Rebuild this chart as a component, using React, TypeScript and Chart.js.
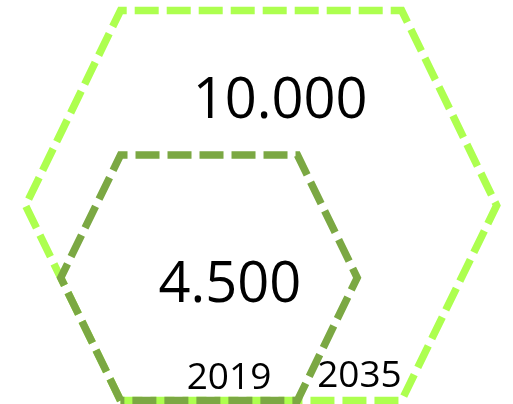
import React, { useEffect, useRef } from "react";
import { Chart, registerables } from "chart.js";

Chart.register(...registerables);

// ---- data ----
const categories = ["2019", "2035"];
const values = [4500, 10000];
const valueLabels = ["4.500", "10.000"];
const colors = ["#7BA843", "#ADFF4F"];

// ---- layout constants (canvas-unit axes) ----
const W = 513;
const Hc = 404;
const anchorX = 120.5; // shared bottom-left vertex
const anchorY = 400.5;
const maxHalfHeight = 195;

function hexGeom(v: number) {
  const maxV = Math.max(...values);
  const k = Math.pow(v / maxV, 0.58);
  const h = maxHalfHeight * k;
  const o = 0.487 * h;
  const l = 1.442 * h;
  return { h, o, l, bx: anchorX, by: anchorY };
}

function hexPoints(v: number) {
  const { h, o, l, bx, by } = hexGeom(v);
  return [
    { x: bx, y: by },
    { x: bx - o, y: by - h },
    { x: bx, y: by - 2 * h },
    { x: bx + l, y: by - 2 * h },
    { x: bx + l + o, y: by - h },
    { x: bx + l, y: by },
    { x: bx, y: by },
  ];
}

const labelPlugin = {
  id: "hexLabels",
  afterDatasetsDraw(chart: any) {
    const { ctx, scales } = chart;
    const xs = scales.x;
    const ys = scales.y;
    const small = hexGeom(values[0]);
    const big = hexGeom(values[1]);
    ctx.save();
    ctx.fillStyle = "#000000";
    ctx.textAlign = "center";
    ctx.textBaseline = "alphabetic";
    // value labels
    ctx.font = "56px 'Open Sans'";
    ctx.fillText(
      valueLabels[1],
      xs.getPixelForValue(big.bx + big.l / 2 + 19),
      ys.getPixelForValue(big.by - 2 * big.h + 0.55 * big.h)
    );
    ctx.fillText(
      valueLabels[0],
      xs.getPixelForValue(small.bx + small.l / 2 + 21),
      ys.getPixelForValue(small.by - 0.8 * small.h)
    );
    // category labels
    ctx.font = "37px 'Open Sans'";
    ctx.fillText(
      categories[0],
      xs.getPixelForValue(small.bx + small.l / 2 + 20),
      ys.getPixelForValue(small.by - 11.5)
    );
    ctx.fillText(
      categories[1],
      xs.getPixelForValue(small.bx + small.l + 62),
      ys.getPixelForValue(small.by - 13.5)
    );
    ctx.restore();
  },
};

export default function App() {
  const ref = useRef<HTMLCanvasElement | null>(null);
  useEffect(() => {
    if (!ref.current) return;
    const chart = new Chart(ref.current, {
      type: "scatter",
      data: {
        datasets: values.map((v, i) => ({
          label: categories[i],
          data: hexPoints(v),
          showLine: true,
          borderColor: colors[i],
          backgroundColor: colors[i],
          borderWidth: 7.5,
          borderDash: [24, 8],
          borderCapStyle: "butt",
          borderJoinStyle: "miter",
          pointRadius: 0,
          pointHoverRadius: 0,
          fill: false,
          tension: 0,
        })),
      } as any,
      options: {
        animation: false,
        responsive: false,
        devicePixelRatio: 1,
        layout: { padding: 0 },
        plugins: {
          legend: { display: false },
          tooltip: { enabled: false },
        },
        events: [],
        scales: {
          x: { type: "linear", min: 0, max: W, display: false },
          y: { type: "linear", min: 0, max: Hc, reverse: true, display: false },
        },
      } as any,
      plugins: [labelPlugin],
    });
    return () => chart.destroy();
  }, []);
  return (
    <div style={{ position: "absolute", left: 0, top: 0, width: W, height: Hc, background: "#fff" }}>
      <canvas ref={ref} width={W} height={Hc} style={{ display: "block" }} />
    </div>
  );
}
